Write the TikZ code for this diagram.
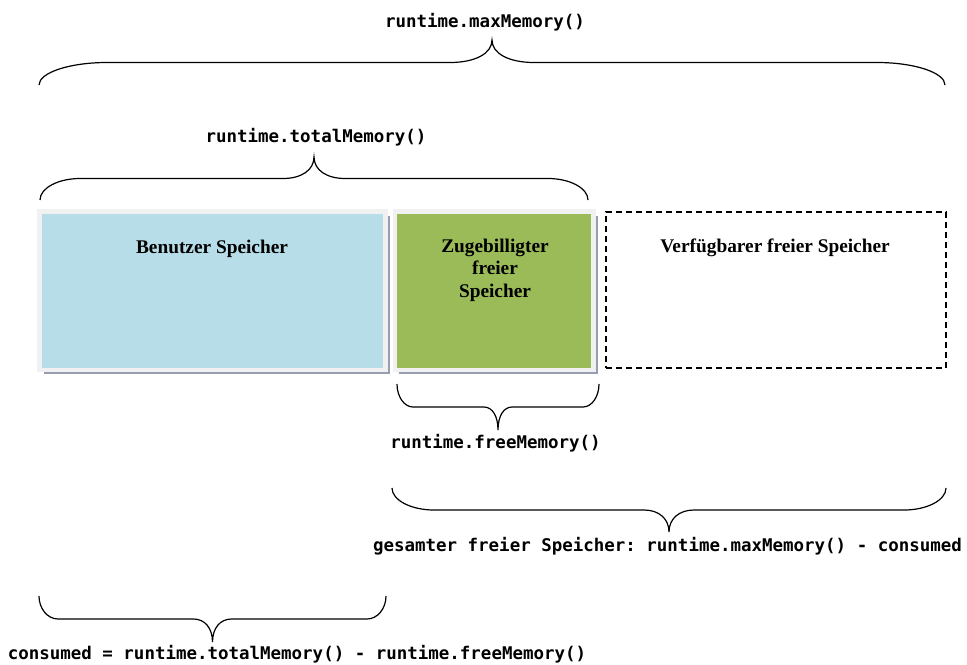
\documentclass[tikz,border=0pt]{standalone}
\usepackage{fontspec}
\setmainfont{Liberation Serif}
\setmonofont{DejaVu Sans Mono}
\usepackage{xcolor}
\usepackage{tikz}
\usetikzlibrary{shadows, positioning}

\definecolor{speicherblau}{RGB}{183,221,232}
\definecolor{speichergruen}{RGB}{155,187,89}
\definecolor{rahmengrau}{RGB}{241,241,241}
\definecolor{schattengrau}{RGB}{150,158,175}

\tikzset{
  code/.style={font=\ttfamily\bfseries\fontsize{13.1}{15}\selectfont, inner sep=0pt},
  kastentext/.style={font=\bfseries\fontsize{14.5}{16.9}\selectfont, align=center, inner sep=0pt},
  klammer/.style={line width=0.9pt},
  speicherkasten/.style={draw=rahmengrau, line width=3.5pt, minimum height=118.9pt, inner sep=0pt,
    drop shadow={shadow xshift=3.2pt, shadow yshift=-3.2pt, fill=schattengrau, opacity=1}},
  freikasten/.style={draw, dash pattern=on 4.5pt off 3pt, line width=1.1pt, inner sep=0pt},
}

% geschweifte Klammer: x links, x rechts, y der Enden, Hoehe, Breite der Enden, Breite der Spitze
\newcommand{\klammer}[6]{%
  \pgfmathsetmacro{\kM}{(#1+#2)/2}%
  \pgfmathsetmacro{\kF}{#3+(#4)}%
  \pgfmathsetmacro{\kS}{#3+2*(#4)}%
  \pgfmathsetmacro{\kA}{#1+#5}%
  \pgfmathsetmacro{\kB}{#2-#5}%
  \pgfmathsetmacro{\kL}{\kM-#6}%
  \pgfmathsetmacro{\kR}{\kM+#6}%
  \draw[klammer] (#1,#3) .. controls (#1,{#3+0.55*(#4)}) and ({#1+0.45*#5},\kF) .. (\kA,\kF)
    -- (\kL,\kF) .. controls ({\kL+0.6*#6},\kF) and (\kM,{\kS-0.6*(#4)}) .. (\kM,\kS)
    .. controls (\kM,{\kS-0.6*(#4)}) and ({\kR-0.6*#6},\kF) .. (\kR,\kF)
    -- (\kB,\kF) .. controls ({\kB+0.55*#5},\kF) and (#2,{#3+0.55*(#4)}) .. (#2,#3);
}

\begin{document}
\begin{tikzpicture}[x=0.75pt, y=-0.75pt]
    \useasboundingbox (0,0) rectangle (967,664);

    % Speicherbereiche
    \node[speicherkasten, fill=speicherblau, minimum width=259.5pt] (benutzer) at (212.5,290.75) {};
    \node[speicherkasten, fill=speichergruen, minimum width=148.9pt] (zugebilligt) at (494.25,290.75) {};
    \node[freikasten, minimum width=255pt, minimum height=117pt] (verfuegbar) at (776,290) {};

    \node[kastentext] (tbenutzer) at (212,249) {Benutzer Speicher};
    \node[kastentext] (tzugebilligt) at (495,270) {Zugebilligter\\freier\\Speicher};
    \node[kastentext] (tverfuegbar) at (775,248) {Verfügbarer freier Speicher};

    % Klammern oben
    \node[code] (maxmem) at (485,22) {runtime.maxMemory()};
    \klammer{39}{945}{85}{-22.5}{68}{42}
    \node[code] (totalmem) at (316,137) {runtime.totalMemory()};
    \klammer{40}{588}{200}{-21.5}{40}{31}

    % Klammern unten
    \klammer{397}{599}{384}{23}{16}{14}
    \node[code] (freemem) at (495.5,443) {runtime.freeMemory()};
    \klammer{392}{946}{488}{22}{42}{25}
    \node[code] (gesamt) at (667.5,546) {gesamter freier Speicher: runtime.maxMemory() - consumed};
    \klammer{39}{386}{596}{23}{19}{19}
    \node[code] (consumed) at (297,654) {consumed = runtime.totalMemory() - runtime.freeMemory()};
\end{tikzpicture}
\end{document}
